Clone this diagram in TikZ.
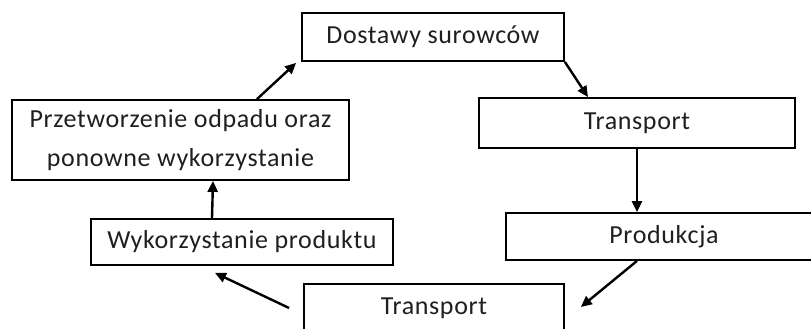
\documentclass[tikz,border=0pt]{standalone}
\usepackage{fontspec}
\setmainfont{Carlito}
\newfontfamily\boxfont[LetterSpace=2.5]{Carlito}
\usetikzlibrary{arrows.meta,calc}
\begin{document}
\begin{tikzpicture}[x=1pt,y=-1pt,
  box/.style={draw=black,line width=1.8pt,fill=white,inner sep=0pt,align=center,font=\boxfont\fontsize{26}{39}\selectfont,text=black!88},
  flow/.style={line width=2.4pt,-{Triangle[length=11pt,width=10pt]}}]
\useasboundingbox (0,0) rectangle (811,329);
\node[box,minimum width=262pt,minimum height=48pt] (dost) at (433,37) {Dostawy surowców};
\node[box,minimum width=316pt,minimum height=50pt] (tr1) at (637,123) {Transport};
\node[box,minimum width=316pt,minimum height=47pt] (prod) at (664,236.5) {Produkcja};
\node[box,minimum width=260pt,minimum height=48pt] (tr2) at (434,308) {Transport};
\node[box,minimum width=302pt,minimum height=46pt] (wyk) at (242,242) {Wykorzystanie produktu};
\node[box,minimum width=337pt,minimum height=80pt] (prz) at (180.5,140) {Przetworzenie odpadu oraz\\ponowne wykorzystanie};
\draw[flow] (dost.south east) -- ($(tr1.north)+(-49,0)$);
\draw[flow] (tr1.south) -- (tr1.south |- prod.north);
\draw[flow] ($(prod.south)+(-27,0)$) -- ($(tr2.east)+(16,-1)$);
\draw[flow] ($(tr2.west)+(-14,0)$) -- ($(wyk.south)+(-27,7)$);
\draw[flow] ($(wyk.north)+(-30,0)$) -- ($(prz.south)+(32.5,0)$);
\draw[flow] ($(prz.north)+(76.5,0)$) -- ($(dost.south west)+(-5,1)$);
\end{tikzpicture}
\end{document}
